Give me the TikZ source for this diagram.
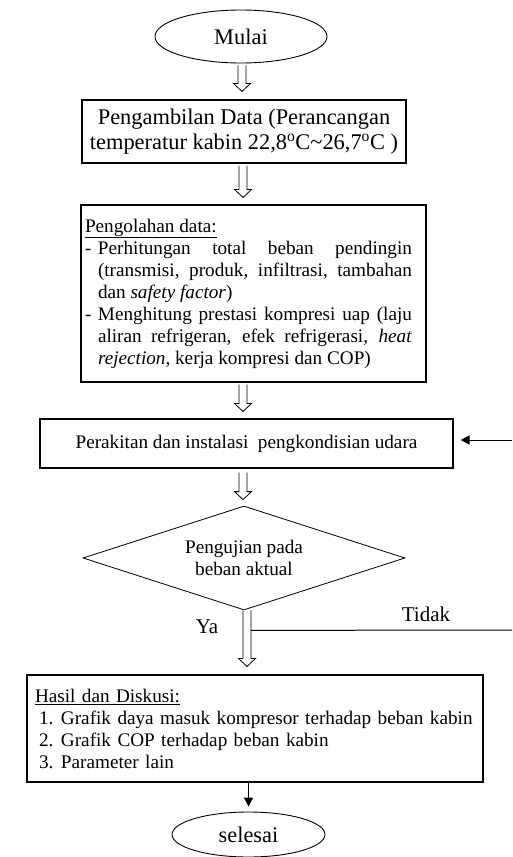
\documentclass[tikz,border=0pt]{standalone}
\usepackage{fontspec}
\setmainfont{Liberation Serif}
\usetikzlibrary{shapes.geometric,arrows.meta,calc}
\newcommand\bigfs{\fontsize{22.4}{25}\selectfont}
\newcommand\midfs{\fontsize{19.2}{22}\selectfont}
\newcommand\labfs{\fontsize{21}{24}\selectfont}
\newcommand\blockarr[2]{\draw[fill=white, line width=0.8pt, line join=miter]
 ($(#1)+(-4,0)$) -- ($(#2)+(-4,-8)$) -- ($(#2)+(-8.5,-8)$) -- (#2) -- ($(#2)+(8.5,-8)$) -- ($(#2)+(4,-8)$) -- ($(#1)+(4,0)$);}
\begin{document}
\begin{tikzpicture}[x=1pt,y=-1pt,
  boxst/.style={draw, rectangle, line width=1.1pt, inner sep=0pt},
  ovalst/.style={draw, ellipse, line width=0.9pt, inner sep=0pt, font=\bigfs},
  arr/.style={line width=1pt, -{Triangle[length=9pt,width=9pt]}}]
\useasboundingbox (0,0) rectangle (512,857);
\fill[white] (0,0) rectangle (512,857);
% nodes
\node[ovalst, minimum width=172pt, minimum height=53pt] (mulai) at (241,36.5) {Mulai};
\node[boxst, minimum width=324pt, minimum height=63pt, font=\bigfs, align=center] (b1) at (244,131.5)
  {Pengambilan Data (Perancangan\\temperatur kabin 22,8\textsuperscript{o}C\textasciitilde26,7\textsuperscript{o}C )};
\node[boxst, minimum width=345pt, minimum height=177pt, font=\midfs, text width=337pt, inner xsep=4pt, align=justify] (b2) at (253.5,293.5)
  {\rightskip=10pt\noindent\underline{Pengolahan data:}\par
   \noindent\hangindent=13pt\hangafter=1\makebox[13pt][l]{-}Perhitungan total beban pendingin\linebreak (transmisi, produk, infiltrasi, tambahan\linebreak dan \textit{safety factor})\par
   \noindent\hangindent=13pt\hangafter=1\makebox[13pt][l]{-}Menghitung prestasi kompresi uap (laju\linebreak aliran refrigeran, efek refrigerasi, \textit{heat}\linebreak \textit{rejection}, kerja kompresi dan COP)\par};
\node[boxst, minimum width=413pt, minimum height=49pt, font=\midfs] (b3) at (246.5,443.5)
  {Perakitan dan instalasi\ \ pengkondisian udara};
\node[draw, diamond, line width=0.8pt, minimum width=322pt, minimum height=104pt, inner sep=0pt, aspect=3, font=\midfs, align=center] (dec) at (244,558)
  {Pengujian pada\\beban aktual};
\node[boxst, minimum width=456pt, minimum height=107pt, font=\midfs, text width=440pt, inner xsep=8pt, align=left] (b4) at (255,728.5)
  {\underline{Hasil dan Diskusi:}\\
   \makebox[26pt][l]{\hspace{4pt}1.}Grafik daya masuk kompresor terhadap beban kabin\\
   \makebox[26pt][l]{\hspace{4pt}2.}Grafik COP terhadap beban kabin\\
   \makebox[26pt][l]{\hspace{4pt}3.}Parameter lain};
\node[ovalst, minimum width=153pt, minimum height=45pt] (sel) at (248.5,834.5) {selesai};
\node[font=\labfs] (ya) at (207,627) {Ya};
\node[font=\labfs] (tidak) at (426,614) {Tidak};
% connectors
\coordinate (a1s) at ($(mulai.south)+(1,2)$);
\coordinate (a1e) at ($(b1.north)+(-2,-8)$);
\coordinate (a2s) at ($(b1.south)+(-1,2)$);
\coordinate (a2e) at ($(b2.north -| a2s)+(0,-7)$);
\coordinate (a3s) at ($(b2.south -| a2s)+(0,2)$);
\coordinate (a3e) at ($(b3.north -| a2s)+(0,-7)$);
\coordinate (a4s) at ($(b3.south -| a2s)+(0,4)$);
\coordinate (a4e) at ($(dec.north -| a2s)+(0,-6)$);
\coordinate (a5s) at ($(dec.south)+(3,0)$);
\coordinate (a5e) at ($(b4.north -| a5s)+(0,-8)$);
\blockarr{a1s}{a1e}
\blockarr{a2s}{a2e}
\blockarr{a3s}{a3e}
\blockarr{a4s}{a4e}
\blockarr{a5s}{a5e}
\coordinate (rb) at (512,630);
\coordinate (rt) at (512,440);
\draw[line width=1pt] ($(a5s)+(4,20)$) -- (rb);
\draw[arr, shorten >=7pt] (rt) -- (rt -| b3.east);
\draw[arr, shorten >=5pt] (b4.south -| sel.north) -- (sel.north);
\end{tikzpicture}
\end{document}
